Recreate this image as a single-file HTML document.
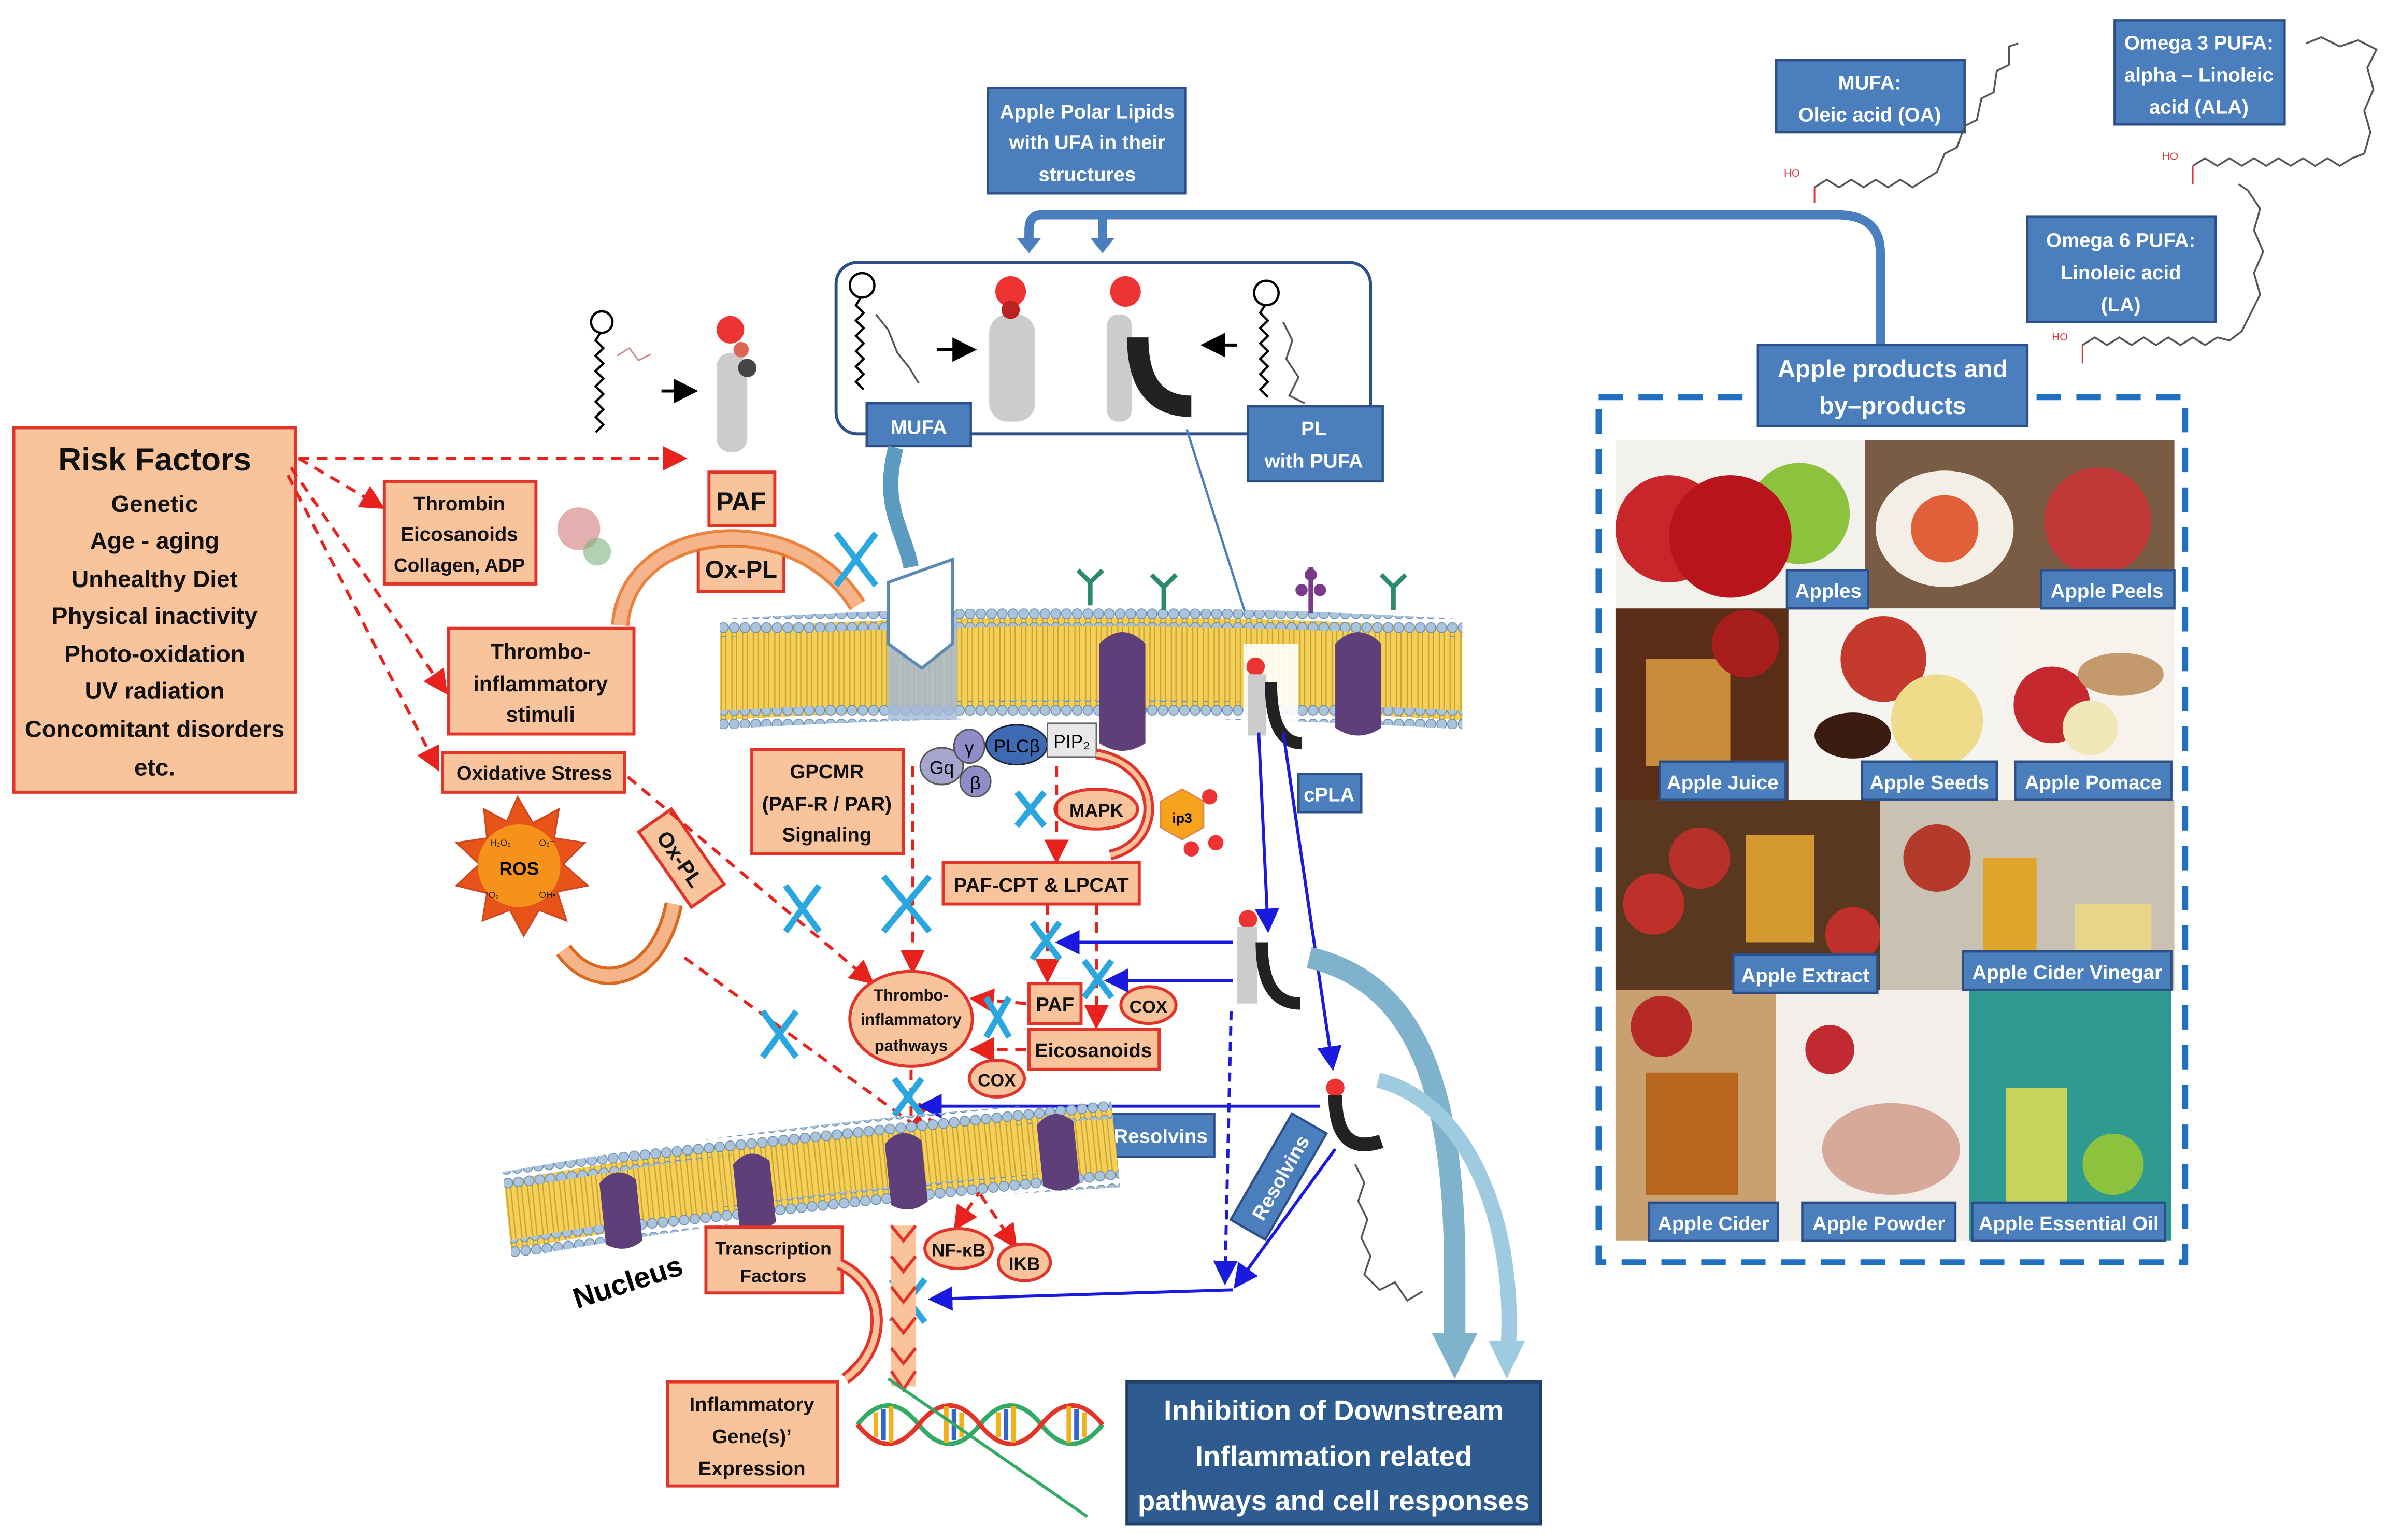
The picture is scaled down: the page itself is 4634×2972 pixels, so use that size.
<!DOCTYPE html>
<html><head><meta charset="utf-8"><style>
html,body{margin:0;padding:0;background:#fff}
svg{display:block}
text{font-family:"Liberation Sans",sans-serif}
.o{fill:#f9c39b;stroke:#e3342a;stroke-width:2}
.ot{font-size:13px;font-weight:bold;fill:#111;text-anchor:middle}
.b{fill:#4a7ebd;stroke:#2c4f87;stroke-width:1.5}
.bt{font-size:13px;font-weight:bold;fill:#fff;text-anchor:middle}
.rd{stroke:#e8221c;stroke-width:2;stroke-dasharray:7,5;fill:none}
.bl{stroke:#1a1adf;stroke-width:2;fill:none}
.bld{stroke:#1a1adf;stroke-width:2;stroke-dasharray:6,4;fill:none}
.x{stroke:#2aa7df;stroke-width:4;fill:none}
.fa{stroke:#555;stroke-width:1.2;fill:none}
</style></head><body>
<svg width="4634" height="2972" viewBox="0 0 1568 1005" xmlns="http://www.w3.org/2000/svg">
<defs>
<marker id="ar" markerWidth="8" markerHeight="8" refX="6" refY="4" orient="auto"><path d="M0,0L8,4L0,8z" fill="#e8221c"/></marker>
<marker id="ab" markerWidth="8" markerHeight="8" refX="6" refY="4" orient="auto"><path d="M0,0L8,4L0,8z" fill="#1a1adf"/></marker>
<marker id="ak" markerWidth="8" markerHeight="8" refX="6" refY="4" orient="auto"><path d="M0,0L8,4L0,8z" fill="#000"/></marker>
<pattern id="dots" width="7" height="9" patternUnits="userSpaceOnUse"><circle cx="3.5" cy="4.5" r="3.2" fill="#a9c4dc" stroke="#6d8fb0" stroke-width="0.6"/></pattern>
<pattern id="tails" width="7" height="10" patternUnits="userSpaceOnUse"><rect width="7" height="10" fill="#f4d05a"/><path d="M2,0v10M5,0v10" stroke="#c9a232" stroke-width="0.8"/></pattern>
</defs>

<!-- Risk factors -->
<rect class="o" x="9" y="279" width="184" height="238"/>
<text class="ot" x="101" y="307" style="font-size:21px">Risk Factors</text>
<text x="101" y="334" class="ot" style="font-size:15.5px">Genetic</text>
<text x="101" y="358" class="ot" style="font-size:15.5px">Age - aging</text>
<text x="101" y="383" class="ot" style="font-size:15.5px">Unhealthy Diet</text>
<text x="101" y="407" class="ot" style="font-size:15.5px">Physical inactivity</text>
<text x="101" y="432" class="ot" style="font-size:15.5px">Photo-oxidation</text>
<text x="101" y="456" class="ot" style="font-size:15.5px">UV radiation</text>
<text x="101" y="481" class="ot" style="font-size:15.5px">Concomitant disorders</text>
<text x="101" y="506" class="ot" style="font-size:15.5px">etc.</text>

<path class="rd" d="M195,299 L445,299" marker-end="url(#ar)"/>
<path class="rd" d="M195,299 L248,330" marker-end="url(#ar)"/>
<path class="rd" d="M190,305 L290,450" marker-end="url(#ar)"/>
<path class="rd" d="M188,310 L285,500" marker-end="url(#ar)"/>

<rect class="o" x="251" y="314" width="99" height="67"/>
<text class="ot" x="300" y="333">Thrombin</text>
<text class="ot" x="300" y="353">Eicosanoids</text>
<text class="ot" x="300" y="373" style="font-size:12.5px">Collagen, ADP</text>
<g fill="#d07a7a"><circle cx="378" cy="345" r="14" opacity="0.6"/><circle cx="390" cy="360" r="9" fill="#7fb07f" opacity="0.6"/></g>

<rect class="o" x="463" y="308" width="43" height="35"/>
<text class="ot" x="484" y="333" style="font-size:17px">PAF</text>
<rect class="o" x="456" y="355" width="56" height="31"/>
<text class="ot" x="484" y="377" style="font-size:16px">Ox-PL</text>

<circle cx="393" cy="210" r="7" fill="none" stroke="#000" stroke-width="1.5"/>
<path d="M392,217 l-3,5 l5,5 l-5,5 l5,5 l-5,5 l5,5 l-5,5 l5,5 l-5,5 l5,5 l-5,5 l5,5 l-5,5" stroke="#000" fill="none" stroke-width="1.5"/>
<path d="M403,232 l8,-5 l6,8 l8,-4" stroke="#c88" fill="none"/>
<path d="M432,255 h20" stroke="#000" stroke-width="2" marker-end="url(#ak)"/>
<g><rect x="468" y="230" width="20" height="65" rx="9" fill="#ccc"/><circle cx="477" cy="215" r="9" fill="#e33"/><circle cx="488" cy="240" r="6" fill="#444"/><circle cx="484" cy="228" r="5" fill="#d65"/></g>

<rect class="o" x="293" y="410" width="121" height="69"/>
<text class="ot" x="353" y="430" style="font-size:14px">Thrombo-</text>
<text class="ot" x="353" y="451" style="font-size:14px">inflammatory</text>
<text class="ot" x="353" y="471" style="font-size:14px">stimuli</text>
<path d="M405,408 C410,340 520,330 560,395" stroke="#e8762a" stroke-width="12" fill="none" opacity="0.9"/>
<path d="M405,408 C410,340 520,330 560,395" stroke="#f6b48a" stroke-width="8" fill="none"/>

<rect class="o" x="289" y="491" width="119" height="26"/>
<text class="ot" x="349" y="509">Oxidative Stress</text>

<polygon fill="#e8531a" stroke="#c42" points="338,520 348,537 365,528 362,547 382,550 368,564 384,578 364,582 370,601 352,594 342,611 333,594 315,601 318,583 298,578 313,564 298,550 318,547 316,528 331,536"/>
<circle cx="339" cy="565" r="27" fill="#f9a21a" opacity="0.8"/>
<text x="339" y="571" font-size="12" font-family="Liberation Serif" font-weight="bold" text-anchor="middle" fill="#000">ROS</text>
<text x="320" y="552" font-size="6" fill="#222">H₂O₂</text><text x="352" y="552" font-size="6" fill="#222">O₂⁻</text>
<text x="317" y="586" font-size="6" fill="#222">¹O₂</text><text x="352" y="586" font-size="6" fill="#222">OH•</text>
<path d="M368,620 C390,650 430,640 440,590" stroke="#d8691e" stroke-width="12" fill="none"/>
<path d="M368,620 C390,650 430,640 440,590" stroke="#f6b48a" stroke-width="8" fill="none"/>
<g transform="translate(445,560) rotate(55)"><rect class="o" x="-30" y="-13" width="60" height="26"/><text class="ot" x="0" y="6" style="font-size:14px">Ox-PL</text></g>

<path class="rd" d="M410,507 L568,640" marker-end="url(#ar)"/>
<path class="rd" d="M447,625 L605,740" marker-end="url(#ar)"/>

<rect class="b" x="645" y="57" width="129" height="69"/>
<text class="bt" x="710" y="77">Apple Polar Lipids</text>
<text class="bt" x="710" y="97">with UFA in their</text>
<text class="bt" x="710" y="118">structures</text>

<rect x="546" y="171" width="349" height="112" rx="14" fill="none" stroke="#2c4f87" stroke-width="2"/>
<path d="M1228,225 L1228,165 Q1228,140 1200,140 L680,140 Q672,140 672,150 L672,160" stroke="#4a7ebd" stroke-width="6" fill="none"/>
<path d="M720,140 L720,160" stroke="#4a7ebd" stroke-width="6"/>
<path d="M664,155 l8,10 l8,-10z M712,155 l8,10 l8,-10z" fill="#4a7ebd"/>
<circle cx="563" cy="186" r="8" fill="none" stroke="#000" stroke-width="1.5"/>
<path d="M562,194 l-3,5 l5,5 l-5,5 l5,5 l-5,5 l5,5 l-5,5 l5,5 l-5,5 l5,5 l-5,5 l5,5" stroke="#000" fill="none" stroke-width="1.5"/>
<path d="M572,205 l8,10 l6,15 l8,10 l6,10" class="fa"/>
<path d="M612,228 h22" stroke="#000" stroke-width="2" marker-end="url(#ak)"/>
<g><rect x="646" y="205" width="30" height="70" rx="12" fill="#ccc"/><circle cx="660" cy="190" r="10" fill="#e33"/><circle cx="660" cy="202" r="6" fill="#b22"/></g>
<g><rect x="723" y="205" width="16" height="70" rx="7" fill="#ccc"/><path d="M743,220 q0,45 35,45" stroke="#222" stroke-width="14" fill="none"/><circle cx="735" cy="190" r="10" fill="#e33"/></g>
<path d="M808,225 h-20" stroke="#000" stroke-width="2" marker-end="url(#ak)"/>
<circle cx="827" cy="191" r="8" fill="none" stroke="#000" stroke-width="1.5"/>
<path d="M826,199 l-3,5 l5,5 l-5,5 l5,5 l-5,5 l5,5 l-5,5 l5,5 l-5,5 l5,5 l-5,5 l5,5" stroke="#000" fill="none" stroke-width="1.5"/>
<path d="M838,210 l6,12 l-4,12 l8,12 l-6,12 l10,5" class="fa"/>
<rect class="b" x="566" y="263" width="68" height="28"/>
<text class="bt" x="600" y="283">MUFA</text>
<rect class="b" x="815" y="265" width="88" height="49"/>
<text class="bt" x="858" y="284">PL</text><text class="bt" x="858" y="305">with PUFA</text>
<path d="M775,280 L818,415" stroke="#4a7ebd" stroke-width="1.5" marker-end="url(#ab)"/>
<path d="M585,292 C575,330 590,345 595,370" stroke="#5b9bc0" stroke-width="10" fill="none"/>

<path d="M470,410 Q712,395 955,410 L955,470 Q712,455 470,470 Z" fill="url(#tails)"/>
<path d="M470,404 Q712,389 955,404 L955,416 Q712,401 470,416 Z" fill="url(#dots)"/>
<path d="M470,464 Q712,449 955,464 L955,476 Q712,461 470,476 Z" fill="url(#dots)"/>
<path d="M718,420 q15,-15 30,0 v65 q-15,10 -30,0z" fill="#5e3f7a"/>
<path d="M872,420 q15,-15 30,0 v55 q-15,10 -30,0z" fill="#5e3f7a"/>
<rect x="580" y="400" width="45" height="70" fill="#a4b9d8" opacity="0.8"/>
<polygon points="580,380 622,365 622,420 602,436 580,420" fill="#fff" stroke="#5b8ab5" stroke-width="2"/>
<rect x="812" y="420" width="36" height="75" fill="#fff" opacity="0.9"/>
<g><circle cx="820" cy="435" r="6" fill="#e33"/><rect x="815" y="440" width="12" height="40" fill="#ccc"/><path d="M830,445 q0,40 20,40" stroke="#222" stroke-width="8" fill="none"/></g>
<g stroke="#2a8a6a" stroke-width="3" fill="none"><path d="M712,395 v-15 l-8,-8 M712,380 l8,-8"/><path d="M760,398 v-15 l-8,-8 M760,383 l8,-8"/><path d="M910,398 v-15 l-8,-8 M910,383 l8,-8"/></g>
<g stroke="#7a3a8a" stroke-width="3"><path d="M856,400 v-30"/></g>
<g fill="#7a3a8a"><circle cx="856" cy="375" r="4"/><circle cx="850" cy="385" r="4"/><circle cx="862" cy="385" r="4"/></g>

<ellipse cx="615" cy="500" rx="14" ry="12" fill="#a7a4cf" stroke="#555"/>
<text x="615" y="505" font-size="12" text-anchor="middle">Gq</text>
<ellipse cx="633" cy="487" rx="10" ry="11" fill="#8f8cc7" stroke="#555"/><text x="633" y="492" font-size="12" text-anchor="middle">γ</text>
<ellipse cx="637" cy="510" rx="10" ry="10" fill="#8f8cc7" stroke="#555"/><text x="637" y="515" font-size="12" text-anchor="middle">β</text>
<ellipse cx="664" cy="486" rx="20" ry="13" fill="#3e69b3" stroke="#223"/><text x="664" y="491" font-size="12" text-anchor="middle">PLCβ</text>
<rect x="684" y="472" width="32" height="22" fill="#e8e8e8" stroke="#666"/><text x="700" y="488" font-size="12" text-anchor="middle">PIP₂</text>
<path d="M716,492 C760,500 760,550 725,558" stroke="#e3342a" stroke-width="7" fill="none"/>
<path d="M716,492 C760,500 760,550 725,558" stroke="#f9c39b" stroke-width="3" fill="none"/>
<polygon points="772,515 786,523 786,540 772,548 758,540 758,523" fill="#f7a21b" stroke="#d85"/>
<text x="772" y="537" font-size="9" font-weight="bold" text-anchor="middle">ip3</text>
<g fill="#e33"><circle cx="790" cy="520" r="5"/><circle cx="794" cy="550" r="5"/><circle cx="778" cy="554" r="5"/></g>

<rect class="o" x="491" y="489" width="99" height="68"/>
<text class="ot" x="540" y="508">GPCMR</text>
<text class="ot" x="540" y="529">(PAF-R / PAR)</text>
<text class="ot" x="540" y="549">Signaling</text>

<ellipse class="o" cx="716" cy="528" rx="27" ry="13"/><text class="ot" x="716" y="533" style="font-size:12px">MAPK</text>
<rect class="o" x="616" y="563" width="128" height="27"/><text class="ot" x="680" y="582">PAF-CPT &amp; LPCAT</text>

<path class="rd" d="M596,500 L596,632" marker-end="url(#ar)"/>
<path class="rd" d="M690,500 L690,560" marker-end="url(#ar)"/>
<path class="rd" d="M684,590 L684,638" marker-end="url(#ar)"/>
<path class="rd" d="M716,590 L716,668" marker-end="url(#ar)"/>
<path class="rd" d="M670,655 L637,652" marker-end="url(#ar)"/>
<path class="rd" d="M670,685 L637,685" marker-end="url(#ar)"/>
<path class="rd" d="M595,698 L595,760" marker-end="url(#ar)"/>
<path class="rd" d="M600,720 L662,812" marker-end="url(#ar)"/>
<path class="rd" d="M668,735 L625,800" marker-end="url(#ar)"/>

<ellipse class="o" cx="595" cy="665" rx="40" ry="31"/>
<text class="ot" x="595" y="653" style="font-size:10.5px">Thrombo-</text>
<text class="ot" x="595" y="669" style="font-size:10.5px">inflammatory</text>
<text class="ot" x="595" y="686" style="font-size:10.5px">pathways</text>
<rect class="o" x="672" y="642" width="34" height="26"/><text class="ot" x="689" y="660">PAF</text>
<rect class="o" x="672" y="672" width="85" height="26"/><text class="ot" x="714" y="690">Eicosanoids</text>
<ellipse class="o" cx="750" cy="656" rx="18" ry="12"/><text class="ot" x="750" y="661" style="font-size:11.5px">COX</text>
<ellipse class="o" cx="651" cy="704" rx="18" ry="12"/><text class="ot" x="651" y="709" style="font-size:11.5px">COX</text>

<rect class="b" x="848" y="505" width="41" height="25"/><text class="bt" x="868" y="523">cPLA</text>
<path class="bl" d="M822,478 L828,605" marker-end="url(#ab)"/>
<path class="bl" d="M838,478 L870,695" marker-end="url(#ab)"/>
<path class="bl" d="M805,615 L693,615" marker-end="url(#ab)"/>
<path class="bl" d="M805,640 L725,640" marker-end="url(#ab)"/>
<path class="bl" d="M862,722 L603,722" marker-end="url(#ab)"/>
<path class="bld" d="M804,660 L800,835" marker-end="url(#ab)"/>
<path class="bl" d="M805,842 L610,848" marker-end="url(#ab)"/>
<path class="bl" d="M872,750 L808,838" marker-end="url(#ab)"/>
<g><circle cx="815" cy="600" r="6" fill="#e33"/><rect x="808" y="605" width="13" height="50" fill="#ccc"/><path d="M824,615 q0,40 25,40" stroke="#222" stroke-width="8" fill="none"/></g>
<g><circle cx="872" cy="710" r="6" fill="#e33"/><path d="M872,715 q0,40 30,30" stroke="#222" stroke-width="9" fill="none"/></g>
<path d="M885,760 l6,12 l-4,12 l6,12 l-4,12 l6,12 l-4,12 l10,10 l10,-5 l8,12 l10,-6" class="fa"/>
<rect class="b" x="724" y="727" width="69" height="28"/><text class="bt" x="758" y="746">Resolvins</text>
<g transform="translate(835,768) rotate(-60)"><rect class="b" x="-40" y="-13" width="80" height="26"/><text class="bt" x="0" y="6">Resolvins</text></g>

<path d="M855,625 C920,640 950,700 950,830 L950,880" stroke="#7fb2cc" stroke-width="14" fill="none"/>
<path d="M935,870 l15,30 l15,-30z" fill="#7fb2cc"/>
<path d="M900,705 C960,720 990,800 985,880" stroke="#9fcbe0" stroke-width="10" fill="none"/>
<path d="M972,875 l12,25 l12,-25z" fill="#9fcbe0"/>

<g class="x">
<path d="M546,348 l26,34 M572,348 l-26,34"/>
<path d="M577,572 l30,36 M607,572 l-30,36"/>
<path d="M513,578 l22,30 M535,578 l-22,30"/>
<path d="M664,517 l18,22 M682,517 l-18,22"/>
<path d="M674,602 l18,24 M692,602 l-18,24"/>
<path d="M708,627 l18,24 M726,627 l-18,24"/>
<path d="M644,651 l15,26 M659,651 l-15,26"/>
<path d="M584,704 l18,24 M602,704 l-18,24"/>
<path d="M670,727 l18,24 M688,727 l-18,24"/>
<path d="M498,660 l22,30 M520,660 l-22,30"/>
<path d="M582,835 l22,28 M604,835 l-22,28"/>
</g>

<g transform="rotate(-6 530 770)">
<path d="M330,750 Q530,735 730,745 L730,790 Q530,780 330,795 Z" fill="url(#tails)"/>
<path d="M330,744 Q530,729 730,739 L730,751 Q530,741 330,756 Z" fill="url(#dots)"/>
<path d="M330,789 Q530,774 730,784 L730,796 Q530,786 330,801 Z" fill="url(#dots)"/>
<path d="M392,758 q12,-12 24,0 v40 q-12,8 -24,0z" fill="#5e3f7a"/>
<path d="M480,755 q12,-12 24,0 v40 q-12,8 -24,0z" fill="#5e3f7a"/>
<path d="M580,752 q12,-12 24,0 v40 q-12,8 -24,0z" fill="#5e3f7a"/>
<path d="M680,750 q12,-12 24,0 v40 q-12,8 -24,0z" fill="#5e3f7a"/>
</g>
<text x="412" y="843" font-size="19" font-weight="bold" transform="rotate(-18 412 843)" text-anchor="middle">Nucleus</text>

<rect class="o" x="461" y="801" width="89" height="43"/>
<text class="ot" x="505" y="819" style="font-size:12px">Transcription</text>
<text class="ot" x="505" y="837" style="font-size:12px">Factors</text>
<ellipse class="o" cx="626" cy="815" rx="22" ry="13"/><text class="ot" x="626" y="820" style="font-size:12px">NF-κB</text>
<ellipse class="o" cx="669" cy="824" rx="17" ry="12"/><text class="ot" x="669" y="829" style="font-size:12px">IKB</text>
<path d="M590,800 L590,905" stroke="#f9c39b" stroke-width="16"/>
<path d="M582,800 l8,10 l8,-10 M582,820 l8,10 l8,-10 M582,840 l8,10 l8,-10 M582,860 l8,10 l8,-10 M582,880 l8,10 l8,-10 M582,895 l8,12 l8,-12" stroke="#e3342a" stroke-width="2" fill="none"/>
<path d="M548,825 C580,840 580,880 552,900" stroke="#e3342a" stroke-width="8" fill="none"/>
<path d="M548,825 C580,840 580,880 552,900" stroke="#f9c39b" stroke-width="4" fill="none"/>
<path d="M560,930 q20,-25 40,0 t40,0 t40,0 t40,0" stroke="#3a6" stroke-width="3" fill="none"/>
<path d="M560,930 q20,25 40,0 t40,0 t40,0 t40,0" stroke="#e3342a" stroke-width="3" fill="none"/>
<g stroke-width="3"><path d="M572,922v16M582,918v24M618,918v24M628,922v16M652,922v16M662,918v24M698,918v24M708,922v16" stroke="#f3b01b"/><path d="M577,920v20M623,920v20M657,920v20M703,920v20" stroke="#36c"/></g>
<path d="M580,900 L710,990" stroke="#3a6" stroke-width="2"/>

<rect class="o" x="436" y="902" width="111" height="68"/>
<text class="ot" x="491" y="921">Inflammatory</text>
<text class="ot" x="491" y="942">Gene(s)’</text>
<text class="ot" x="491" y="963">Expression</text>

<rect x="736" y="902" width="270" height="93" fill="#2f5c90" stroke="#1e3f66" stroke-width="2"/>
<text class="bt" x="871" y="927" style="font-size:18.5px">Inhibition of Downstream</text>
<text class="bt" x="871" y="957" style="font-size:18.5px">Inflammation related</text>
<text class="bt" x="871" y="986" style="font-size:18.5px">pathways and cell responses</text>

<rect class="b" x="1160" y="39" width="123" height="47"/>
<text class="bt" x="1221" y="58">MUFA:</text><text class="bt" x="1221" y="79">Oleic acid (OA)</text>
<rect class="b" x="1381" y="13" width="111" height="68"/>
<text class="bt" x="1436" y="32">Omega 3 PUFA:</text><text class="bt" x="1436" y="53">alpha – Linoleic</text><text class="bt" x="1436" y="74">acid (ALA)</text>
<rect class="b" x="1324" y="141" width="123" height="69"/>
<text class="bt" x="1385" y="161">Omega 6 PUFA:</text><text class="bt" x="1385" y="182">Linoleic acid</text><text class="bt" x="1385" y="203">(LA)</text>
<path class="fa" d="M1185,122 L1193,117 L1201,122 L1209,117 L1217,122 L1225,117 L1233,122 L1241,117 L1249,122 L1257,117 L1265,112 L1270,100 L1278,96 L1283,82 L1291,78 L1294,64 L1302,60 L1304,46 L1312,42 L1312,30 L1318,28"/>
<text x="1165" y="115" font-size="7" fill="#d33">HO</text><path d="M1185,122 v10" stroke="#d33"/>
<path class="fa" d="M1432,108 L1440,103 L1448,108 L1456,103 L1464,108 L1472,103 L1480,108 L1488,103 L1496,108 L1504,103 L1512,108 L1520,103 L1528,108 L1536,103 L1544,100 L1548,86 L1544,72 L1550,58 L1546,44 L1552,32 L1540,26 L1528,30 L1516,24 L1506,28"/>
<text x="1412" y="104" font-size="7" fill="#d33">HO</text><path d="M1432,108 v12" stroke="#d33"/>
<path class="fa" d="M1360,225 L1368,220 L1376,225 L1384,220 L1392,225 L1400,220 L1408,225 L1416,220 L1424,225 L1432,220 L1440,225 L1448,220 L1456,222 L1464,216 L1470,204 L1476,192 L1472,178 L1478,164 L1472,150 L1476,136 L1468,124 L1462,120"/>
<text x="1340" y="222" font-size="7" fill="#d33">HO</text><path d="M1360,225 v12" stroke="#d33"/>

<rect x="1044" y="259" width="383" height="565" fill="none" stroke="#1f6fc2" stroke-width="4" stroke-dasharray="16,10"/>
<rect class="b" x="1148" y="225" width="176" height="53"/>
<text class="bt" x="1236" y="246" style="font-size:16px">Apple products and</text>
<text class="bt" x="1236" y="270" style="font-size:16px">by–products</text>

<rect x="1055" y="287" width="163" height="110" fill="#f3f1ec"/>
<circle cx="1090" cy="345" r="35" fill="#c8262a"/><circle cx="1175" cy="335" r="33" fill="#8cc23d"/><circle cx="1130" cy="350" r="40" fill="#b9141c"/>
<rect x="1218" y="287" width="202" height="110" fill="#7a5b44"/>
<ellipse cx="1270" cy="345" rx="45" ry="38" fill="#f4efe6"/><circle cx="1270" cy="345" r="22" fill="#e0603a"/><circle cx="1370" cy="340" r="35" fill="#c2393a"/>
<rect x="1055" y="397" width="113" height="125" fill="#5a2e16"/><rect x="1075" y="430" width="55" height="70" fill="#c98c3a"/><circle cx="1140" cy="420" r="22" fill="#a81d1e"/>
<rect x="1168" y="397" width="140" height="125" fill="#f6f4f0"/><circle cx="1230" cy="430" r="28" fill="#c43b2e"/><circle cx="1265" cy="470" r="30" fill="#eedc8a"/><ellipse cx="1210" cy="480" rx="25" ry="15" fill="#3a1d10"/>
<rect x="1308" y="397" width="112" height="125" fill="#f7f3ec"/><circle cx="1340" cy="460" r="25" fill="#c5282e"/><ellipse cx="1385" cy="440" rx="28" ry="14" fill="#c49a6c"/><circle cx="1365" cy="475" r="18" fill="#f0e6b8"/>
<rect x="1055" y="522" width="173" height="124" fill="#5a3820"/><circle cx="1080" cy="590" r="20" fill="#c0302a"/><circle cx="1110" cy="560" r="20" fill="#b8302a"/><rect x="1140" y="545" width="45" height="70" fill="#d49930"/><circle cx="1210" cy="610" r="18" fill="#c0302a"/>
<rect x="1228" y="522" width="192" height="124" fill="#c9c2b2"/><circle cx="1265" cy="560" r="22" fill="#b43a2c"/><rect x="1295" y="560" width="35" height="65" fill="#e0a42a"/><rect x="1355" y="590" width="50" height="40" fill="#e7d58a"/>
<rect x="1055" y="646" width="105" height="164" fill="#c9a070"/><rect x="1075" y="700" width="60" height="80" fill="#b8651e"/><circle cx="1085" cy="670" r="20" fill="#b52a25"/>
<rect x="1160" y="646" width="126" height="164" fill="#f2efea"/><ellipse cx="1235" cy="750" rx="45" ry="30" fill="#d7a99a"/><circle cx="1195" cy="685" r="16" fill="#c12a30"/>
<rect x="1286" y="646" width="132" height="164" fill="#2f9a92"/><rect x="1310" y="710" width="40" height="75" fill="#c7d45a"/><circle cx="1380" cy="760" r="20" fill="#8cc23d"/>
<g>
<rect class="b" x="1167" y="372" width="53" height="25"/><text class="bt" x="1194" y="390">Apples</text>
<rect class="b" x="1333" y="372" width="87" height="25"/><text class="bt" x="1376" y="390">Apple Peels</text>
<rect class="b" x="1084" y="497" width="82" height="25"/><text class="bt" x="1125" y="515">Apple Juice</text>
<rect class="b" x="1216" y="497" width="88" height="25"/><text class="bt" x="1260" y="515">Apple Seeds</text>
<rect class="b" x="1316" y="497" width="102" height="25"/><text class="bt" x="1367" y="515">Apple Pomace</text>
<rect class="b" x="1132" y="623" width="94" height="25"/><text class="bt" x="1179" y="641">Apple Extract</text>
<rect class="b" x="1282" y="621" width="136" height="25"/><text class="bt" x="1350" y="639">Apple Cider Vinegar</text>
<rect class="b" x="1077" y="785" width="84" height="25"/><text class="bt" x="1119" y="803">Apple Cider</text>
<rect class="b" x="1177" y="785" width="100" height="25"/><text class="bt" x="1227" y="803">Apple Powder</text>
<rect class="b" x="1288" y="785" width="126" height="25"/><text class="bt" x="1351" y="803">Apple Essential Oil</text>
</g>
</svg>
</body></html>
